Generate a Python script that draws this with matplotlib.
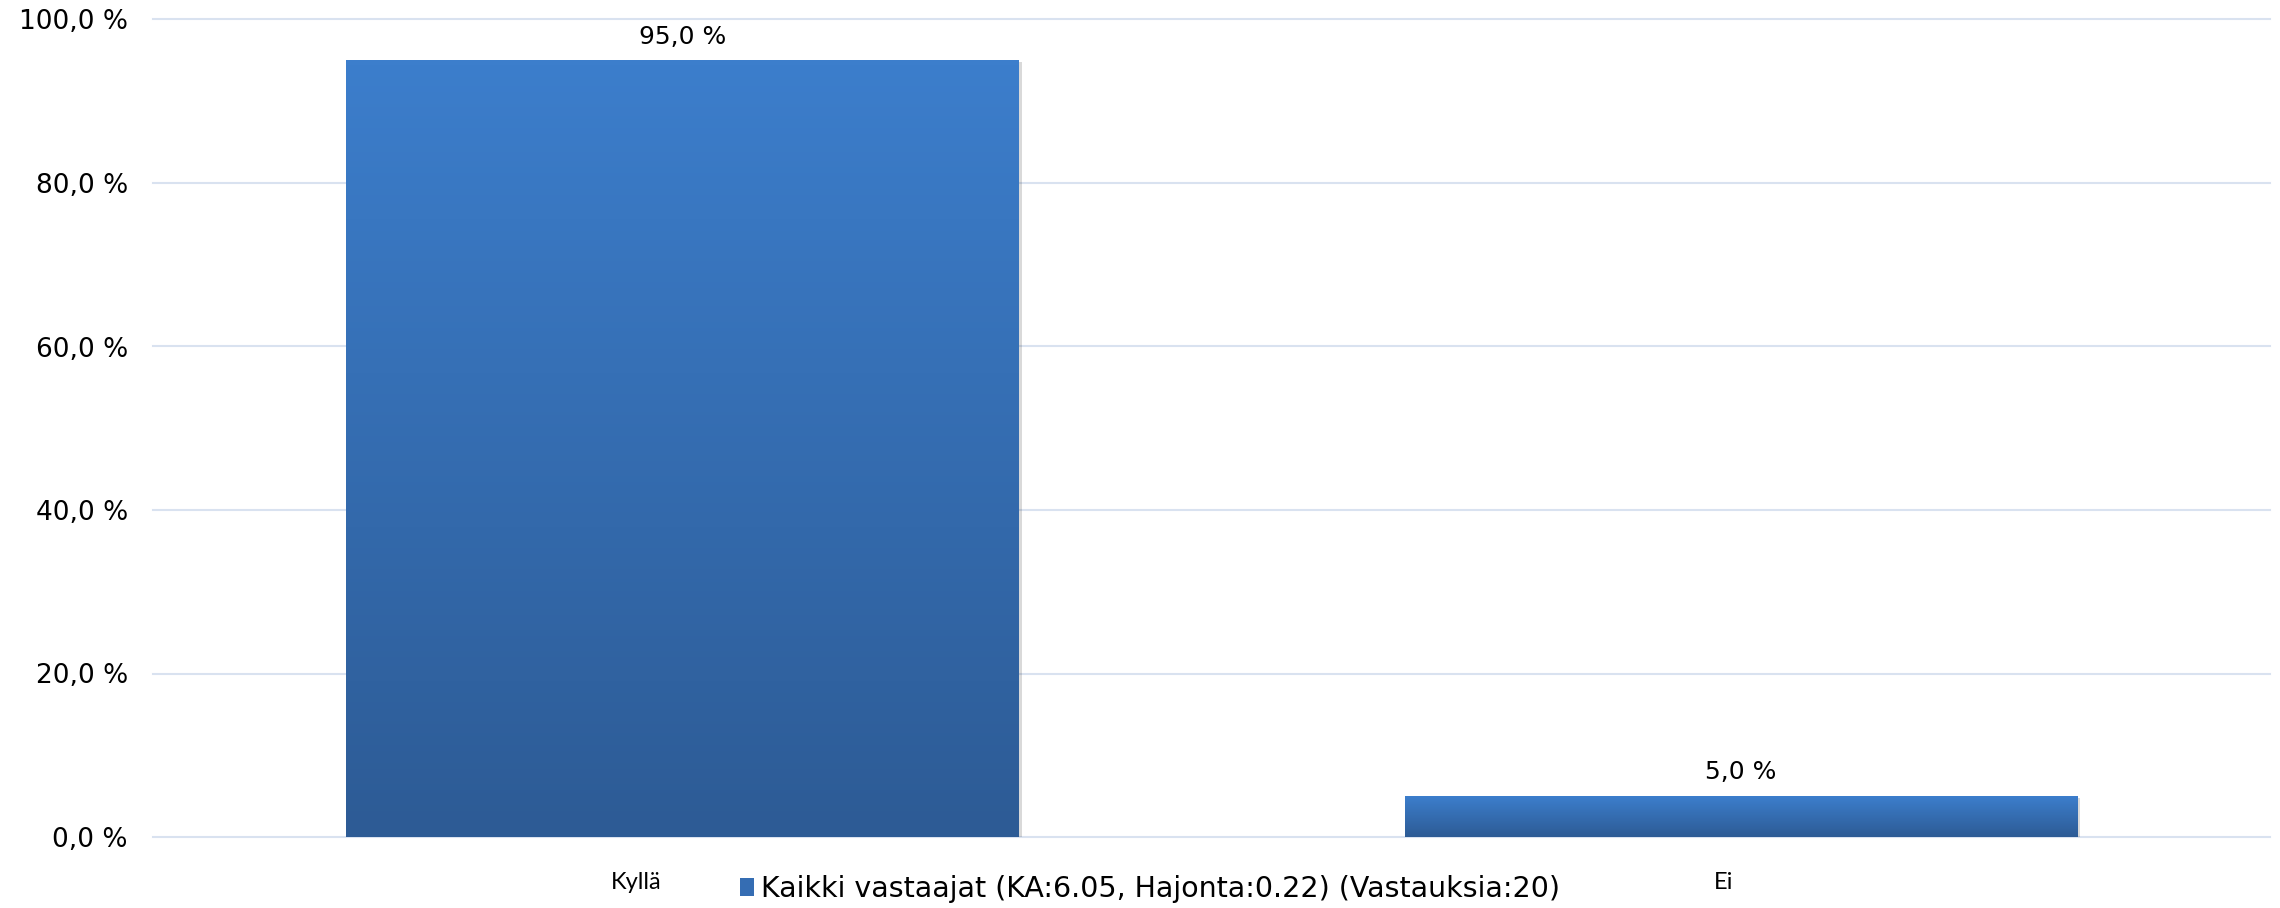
"""
Bar chart: share of respondents answering Kyllä / Ei.

Run: python plot.py
"""

import numpy as np
import matplotlib

matplotlib.use("Agg")
import matplotlib.pyplot as plt
from matplotlib import patheffects, transforms
from matplotlib.colors import LinearSegmentedColormap
from matplotlib.patches import Rectangle

FIG_PATH = "out.png"

CATEGORIES = ["Kyllä", "Ei"]
VALUES = [95.0, 5.0]
SERIES_LABEL = "Kaikki vastaajat (KA:6.05, Hajonta:0.22) (Vastauksia:20)"
Y_TICKS = [0, 20, 40, 60, 80, 100]

BAR_TOP = "#3C7ECC"
BAR_BOTTOM = "#2D5B95"
LEGEND_COLOR = "#356DB3"
GRID_COLOR = "#D9E2F0"
# category labels sit a little left of the bar centres in the original
LABEL_SHIFT_PX = [-46, -17]


def pct(v: float) -> str:
    """Finnish style percent: 95,0 %"""
    return f"{v:.1f}".replace(".", ",") + " %"


def main() -> None:
    plt.rcParams["font.family"] = ["DejaVu Sans"]

    fig = plt.figure(figsize=(22.8, 9.08), dpi=100)
    ax = fig.add_axes([153 / 2280, 71 / 908, 2117 / 2280, 817.5 / 908])

    x = np.arange(len(CATEGORIES))
    bars = ax.bar(x, VALUES, width=0.635, color=BAR_BOTTOM, zorder=2)

    # vertical gradient fill clipped to each bar, plus a faint drop shadow
    cmap = LinearSegmentedColormap.from_list("bar", [BAR_BOTTOM, BAR_TOP])
    grad = np.linspace(0, 1, 256).reshape(-1, 1)
    shadow = [
        patheffects.SimplePatchShadow(offset=(2.5, -1.5), shadow_rgbFace="black", alpha=0.15),
        patheffects.Normal(),
    ]
    for rect, val in zip(bars, VALUES):
        rect.set_path_effects(shadow)
        x0, w, h = rect.get_x(), rect.get_width(), rect.get_height()
        im = ax.imshow(grad, extent=[x0, x0 + w, 0, h], origin="lower", aspect="auto",
                       cmap=cmap, interpolation="bilinear", zorder=3)
        im.set_clip_path(rect)
        ax.annotate(pct(val), xy=(x0 + w / 2, h), xytext=(0, 12), textcoords="offset points",
                    ha="center", va="baseline", fontsize=18, color="black")

    ax.set_xlim(-0.5, len(CATEGORIES) - 0.5)
    ax.set_ylim(0, 100)

    ax.set_yticks(Y_TICKS, labels=[pct(v) for v in Y_TICKS])
    ax.set_xticks(x, labels=CATEGORIES)
    ax.tick_params(axis="y", length=0, pad=18, labelsize=19)
    ax.tick_params(axis="x", length=0, pad=25, labelsize=17, labelfontfamily="Lato")
    for lab, dx in zip(ax.get_xticklabels(), LABEL_SHIFT_PX):
        lab.set_transform(lab.get_transform()
                          + transforms.ScaledTranslation(dx / 100, 0, fig.dpi_scale_trans))

    ax.grid(axis="y", color=GRID_COLOR, linewidth=1.5, zorder=0)
    ax.set_axisbelow(True)
    for line in ax.get_ygridlines():
        line.set_clip_on(False)
    for spine in ax.spines.values():
        spine.set_visible(False)

    handle = Rectangle((0, 0), 1, 1, facecolor=LEGEND_COLOR, edgecolor="none")
    fig.legend(handles=[handle], labels=[SERIES_LABEL], loc="center",
               bbox_to_anchor=(1150 / 2280, 1 - 889 / 908), frameon=False, fontsize=20.5,
               handlelength=0.5, handleheight=0.55, handletextpad=0.25,
               borderpad=0, borderaxespad=0)

    fig.savefig(FIG_PATH, dpi=100)
    plt.close(fig)


if __name__ == "__main__":
    main()
